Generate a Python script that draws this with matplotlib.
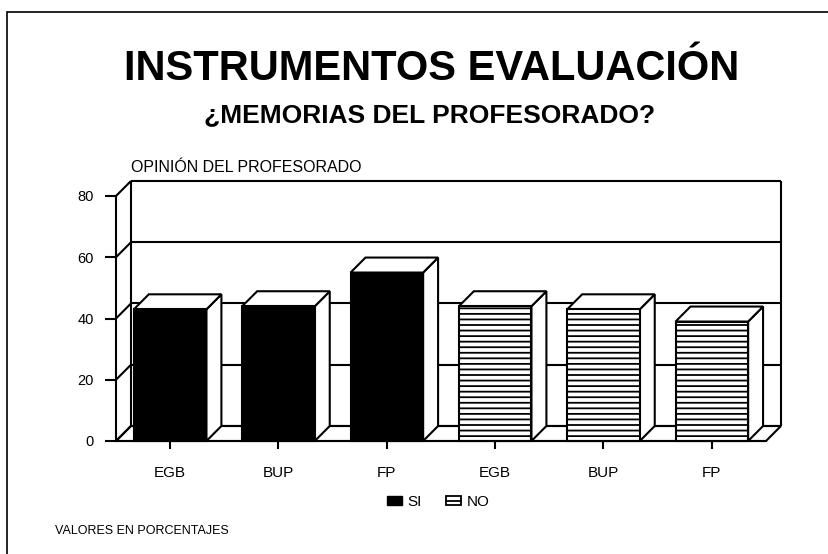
import numpy as np
import matplotlib.pyplot as plt
from matplotlib.patches import Polygon, Rectangle, Patch
from matplotlib.lines import Line2D

plt.rcParams['font.family'] = ['Liberation Sans', 'DejaVu Sans']
plt.rcParams['hatch.linewidth'] = 1.3

# datos
categorias = ['EGB', 'BUP', 'FP', 'EGB', 'BUP', 'FP']
respuesta = ['SI', 'SI', 'SI', 'NO', 'NO', 'NO']
porcentajes = [43, 44, 55, 44, 43, 39]
ticks_y = [0, 20, 40, 60, 80]

W, H = 829, 554
def px(x, y):  # pixeles -> fraccion de figura
    return x / W, 1 - y / H

fig = plt.figure(figsize=(W / 100, H / 100), dpi=100)
ax = fig.add_axes([116 / W, 1 - 441 / H, 650 / W, 245 / H])
ax.set_xlim(-0.5, 5.5)
ax.set_ylim(0, 80)

dx, dy = 0.138, 4.9   # profundidad 3D
ancho = 0.67
lw = 1.5
k = dict(color='black', lw=lw, clip_on=False, solid_capstyle='butt')

# suelo y paredes
suelo = Polygon([(-0.5, 0), (-0.5 + dx, dy), (5.5 + dx, dy), (5.5, 0)],
                facecolor='white', edgecolor='black', lw=lw, clip_on=False, zorder=1)
ax.add_patch(suelo)
for v in ticks_y:
    ax.plot([-0.5, -0.5 + dx], [v, v + dy], zorder=2, **k)
    ax.plot([-0.5 + dx, 5.5 + dx], [v + dy, v + dy], zorder=2, **k)
ax.plot([-0.5 + dx] * 2, [dy, 80 + dy], zorder=2, **k)
ax.plot([5.5 + dx] * 2, [dy, 80 + dy], zorder=2, **k)

# barras
for i, (v, r) in enumerate(zip(porcentajes, respuesta)):
    x0, x1 = i - ancho / 2, i + ancho / 2
    if r == 'SI':
        frente = Rectangle((x0, 0), ancho, v, facecolor='black', edgecolor='black', lw=lw)
    else:
        frente = Rectangle((x0, 0), ancho, v, facecolor='white', edgecolor='black', lw=lw, hatch='---')
    lado = Polygon([(x1, 0), (x1 + dx, dy), (x1 + dx, v + dy), (x1, v)],
                   facecolor='white', edgecolor='black', lw=lw)
    techo = Polygon([(x0, v), (x0 + dx, v + dy), (x1 + dx, v + dy), (x1, v)],
                    facecolor='white', edgecolor='black', lw=lw)
    for p in (lado, techo, frente):
        p.set_zorder(3)
        p.set_clip_on(False)
        ax.add_patch(p)

for s in ['top', 'right']:
    ax.spines[s].set_visible(False)
for s in ['left', 'bottom']:
    ax.spines[s].set_linewidth(lw)
    ax.spines[s].set_zorder(4)
ax.patch.set_visible(False)

ax.set_xticks(range(len(categorias)), categorias)
ax.set_yticks(ticks_y)
ax.tick_params(axis='x', length=6, width=lw, pad=12, labelsize=11)
ax.tick_params(axis='y', length=8, width=lw, pad=8, labelsize=10.5)

# textos
fig.text(*px(432, 80), 'INSTRUMENTOS EVALUACIÓN', ha='center', va='baseline',
         fontsize=30, fontweight='bold')
fig.text(*px(430, 122), '¿MEMORIAS DEL PROFESORADO?', ha='center', va='baseline',
         fontsize=19, fontweight='bold')
fig.text(*px(131, 172), 'OPINIÓN DEL PROFESORADO', ha='left', va='baseline', fontsize=11.5)
fig.text(*px(55, 534), 'VALORES EN PORCENTAJES', ha='left', va='baseline', fontsize=9)

# leyenda
h_si = Patch(facecolor='black', edgecolor='black')
h_no = (Patch(facecolor='white', edgecolor='black', lw=1.3),
        Line2D([], [], color='black', lw=1.3))
fig.legend(handles=[h_si, h_no], labels=['SI', 'NO'], loc='center',
           bbox_to_anchor=px(438, 502), ncol=2, frameon=False, fontsize=11,
           handlelength=1.0, handleheight=0.6, handletextpad=0.35, columnspacing=1.6)

# marco
fig.add_artist(Line2D([8 / W, 1], [1 - 12 / H] * 2, color='black', lw=1.2))
fig.add_artist(Line2D([7 / W] * 2, [0, 1 - 12 / H], color='black', lw=1.2))

fig.savefig('out.png', dpi=100)
